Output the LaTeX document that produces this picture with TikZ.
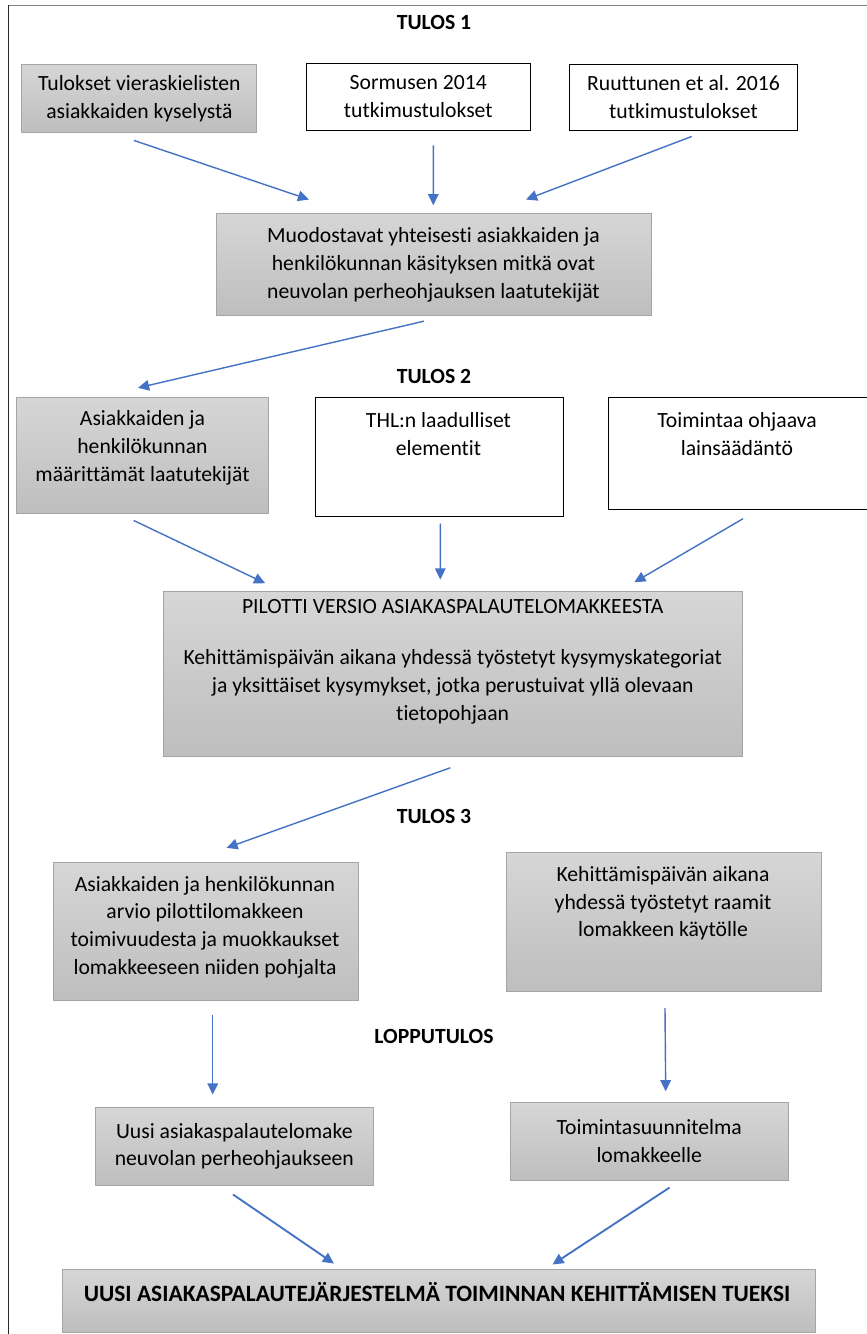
\documentclass[tikz,border=0pt]{standalone}
\usepackage{fontspec}
\setmainfont[Ligatures=NoCommon]{Carlito}
\usetikzlibrary{arrows.meta}
\definecolor{arrblue}{HTML}{4472C4}
\definecolor{boxtop}{HTML}{D6D6D6}
\definecolor{boxbot}{HTML}{BEBEBE}
\definecolor{boxline}{HTML}{A5A5A5}

\begin{document}
\begin{tikzpicture}[x=0.03cm,y=-0.03cm,
    graybox/.style={draw=boxline,line width=0.8pt,top color=boxtop,bottom color=boxbot},
    whitebox/.style={draw=black,line width=0.7pt,fill=white},
    txt/.style={align=center,inner sep=0pt,font=\fontsize{18.5}{23.8}\selectfont},
    hd/.style={inner sep=0pt,font=\fontsize{18.5}{23.8}\selectfont\bfseries},
    arr/.style={draw=arrblue,line width=1.2pt,-{Triangle[length=9.5pt,width=9pt]}}]

  \fill[white] (0,0) rectangle (867,1334);
  \useasboundingbox (0,0) rectangle (867,1334);
  % frame
  \draw[gray,line width=0.7pt] (8,5) -- (867,5);
  \draw[black!85,line width=0.7pt] (8,5) -- (8,1334);

  % tulos 1
  \node[hd] (h1) at (434,22) {TULOS 1};
  \node[graybox,txt,minimum width=235*0.03cm,minimum height=68*0.03cm] (a1)
    at (139.4,98.3) {Tulokset vieraskielisten\\asiakkaiden kyselystä};
  \node[whitebox,txt,minimum width=224*0.03cm,minimum height=67*0.03cm] (a2)
    at (418.3,96.7) {Sormusen 2014\\tutkimustulokset};
  \node[whitebox,txt,minimum width=228.4*0.03cm,minimum height=65.7*0.03cm] (a3)
    at (683.5,97.2) {Ruuttunen et al. 2016\\tutkimustulokset};
  \node[graybox,txt,minimum width=435*0.03cm,minimum height=102.4*0.03cm] (b)
    at (433.5,264.5) {Muodostavat yhteisesti asiakkaiden ja\\henkilökunnan käsityksen mitkä ovat\\neuvolan perheohjauksen laatutekijät};

  \draw[arr] ([shift={(-5.4,7.7)}]a1.south) -- ([shift={(-124.5,-13.3)}]b.north);
  \draw[arr] ([shift={(15,14.8)}]a2.south) -- ([shift={(-0.2,-7.6)}]b.north);
  \draw[arr] ([shift={(8.2,6)}]a3.south) -- ([shift={(92.5,-13.3)}]b.north);

  % tulos 2
  \node[hd] (h2) at (434,376) {TULOS 2};
  \node[graybox,minimum width=251.4*0.03cm,minimum height=116*0.03cm] (c1) at (142.3,455.7) {};
  \node[txt] (c1t) at (142.5,448.2) {Asiakkaiden ja\\henkilökunnan\\määrittämät laatutekijät};
  \node[whitebox,minimum width=248*0.03cm,minimum height=119*0.03cm] (c2) at (439,457.2) {};
  \node[txt] (c2t) at (438.5,434) {THL:n laadulliset\\elementit};
  \node[whitebox,minimum width=262*0.03cm,minimum height=112*0.03cm] (c3) at (739,453.7) {};
  \node[txt] (c3t) at (737,434) {Toimintaa ohjaava\\lainsäädäntö};

  \draw[arr] ([shift={(-9.5,5)}]b.south) -- ([shift={(-4.3,-9.4)}]c1.north);

  % pilotti
  \node[graybox,minimum width=578.6*0.03cm,minimum height=165*0.03cm] (d) at (452.7,674.2) {};
  \node[txt] (dt1) at (452.7,607) {PILOTTI VERSIO ASIAKASPALAUTELOMAKKEESTA};
  \node[txt] (dt2) at (452.7,686.7) {Kehittämispäivän aikana yhdessä työstetyt kysymyskategoriat\\ja yksittäiset kysymykset, jotka perustuivat yllä olevaan\\tietopohjaan};

  \draw[arr] ([shift={(-8.6,6.3)}]c1.south) -- ([shift={(-187.5,-8)}]d.north);
  \draw[arr] ([shift={(1.3,6.6)}]c2.south) -- ([shift={(-12.4,-11.7)}]d.north);
  \draw[arr] ([shift={(4,8.6)}]c3.south) -- ([shift={(181.6,-9)}]d.north);

  % tulos 3
  \node[hd] (h3) at (434,816.7) {TULOS 3};
  \node[graybox,minimum width=305*0.03cm,minimum height=137.7*0.03cm] (e1) at (205.5,931.2) {};
  \node[txt] (e1t) at (205,927.2) {Asiakkaiden ja henkilökunnan\\arvio pilottilomakkeen\\toimivuudesta ja muokkaukset\\lomakkeeseen niiden pohjalta};
  \node[graybox,minimum width=315*0.03cm,minimum height=138.7*0.03cm] (e2) at (664,921.7) {};
  \node[txt] (e2t) at (663,903.3) {Kehittämispäivän aikana\\yhdessä työstetyt raamit\\lomakkeen käytölle};

  \draw[arr] ([shift={(-2.4,10.6)}]d.south) -- ([shift={(21,-14)}]e1.north);

  % lopputulos
  \node[hd] (h4) at (434,1036) {LOPPUTULOS};
  \node[graybox,txt,minimum width=278.5*0.03cm,minimum height=78*0.03cm] (f1)
    at (234.3,1146.3) {Uusi asiakaspalautelomake\\neuvolan perheohjaukseen};
  \node[graybox,txt,minimum width=278.4*0.03cm,minimum height=77.7*0.03cm] (f2)
    at (649.2,1141.2) {Toimintasuunnitelma\\lomakkeelle};

  \draw[arr] ([shift={(7.2,14)}]e1.south) -- ([shift={(-21.6,-12.3)}]f1.north);
  \draw[arr] ([shift={(1,16.7)}]e2.south) -- ([shift={(16.5,-10.6)}]f2.north);

  \node[graybox,minimum width=752.6*0.03cm,minimum height=63*0.03cm] (g) at (438.7,1300.5) {};
  \node[hd,font=\fontsize{20}{24}\selectfont\bfseries] (gt) at (437,1292) {UUSI ASIAKASPALAUTEJÄRJESTELMÄ TOIMINNAN KEHITTÄMISEN TUEKSI};

  \draw[arr,line width=1.6pt] ([shift={(-1.3,8.7)}]f1.south) -- ([shift={(-104.7,-5)}]g.north);
  \draw[arr,line width=1.6pt] ([shift={(20.4,7)}]f2.south) -- ([shift={(113.8,-4)}]g.north);

\end{tikzpicture}
\end{document}
